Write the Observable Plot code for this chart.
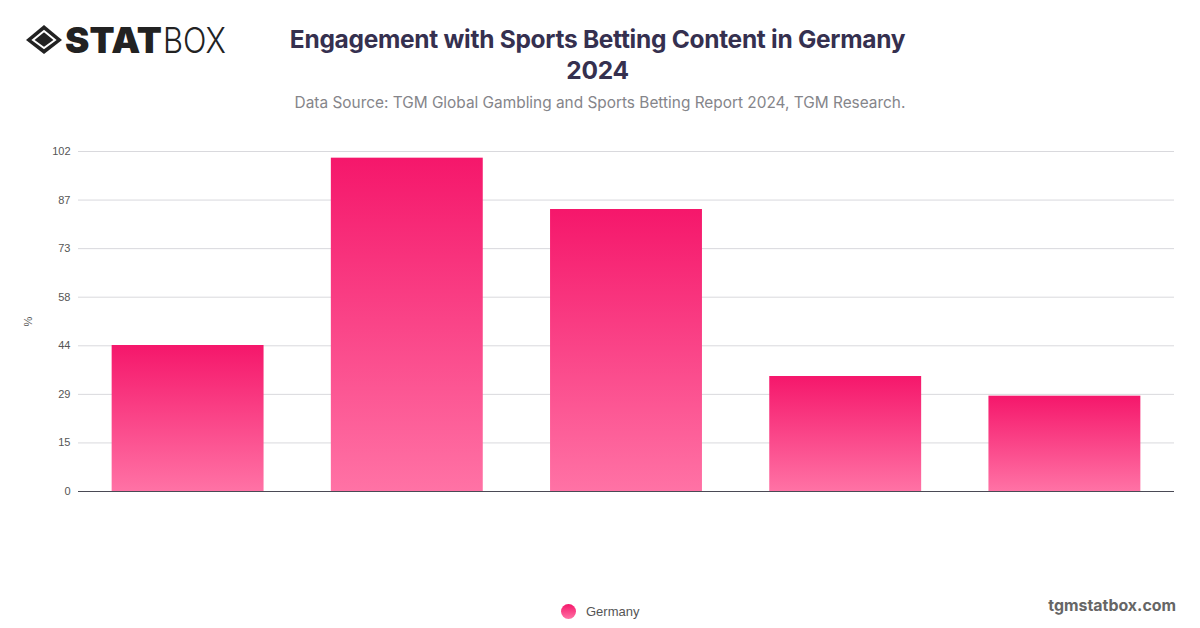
<!DOCTYPE html>
<html>
<head>
<meta charset="utf-8">
<script src="https://cdn.jsdelivr.net/npm/d3@7"></script>
<script src="https://cdn.jsdelivr.net/npm/@observablehq/plot@0.6"></script>
<style>
html,body{margin:0;padding:0;background:#fff;width:1200px;height:628px;overflow:hidden;font-family:Inter,"Liberation Sans",sans-serif}
.abs{position:absolute;white-space:nowrap}
#title{left:0;width:1195px;top:24px;text-align:center;font-size:24.5px;line-height:31px;font-weight:700;color:#35304f;letter-spacing:-.29px}
#sub{left:0;width:1200px;top:93px;text-align:center;font-size:15.4px;line-height:20px;color:#85858a}
#chart{left:0;top:130px}
#logo{left:24px;top:10px}
#legend{left:561px;top:604px;display:flex;align-items:center;font-size:13px;color:#555;font-family:"Liberation Sans",sans-serif}
#legend i{display:block;width:15px;height:15px;border-radius:50%;background:linear-gradient(#f5176b,#ff72a5);margin-right:10px}
#site{right:24px;top:596px;font-size:15.9px;font-weight:700;color:#666}
</style>
</head>
<body>
<div id="logo" class="abs">
<svg width="240" height="60" viewBox="0 -10 240 60">
<path d="M20 5 L38 20 L20 34 L2 20 Z" fill="#222"/>
<path d="M20 11 L31 20 L20 28 L9 20 Z" fill="#222" stroke="#fff" stroke-width="2"/>
<text x="41" y="33" font-family="Inter" font-weight="900" font-size="36" fill="#222" textLength="97" lengthAdjust="spacingAndGlyphs">STAT</text>
<text x="139" y="33" font-family="Inter" font-weight="300" font-size="36" fill="#222" textLength="63" lengthAdjust="spacingAndGlyphs">BOX</text>
</svg>
</div>
<div id="title" class="abs">Engagement with Sports Betting Content in Germany<br>2024</div>
<div id="sub" class="abs">Data Source: TGM Global Gambling and Sports Betting Report 2024, TGM Research.</div>
<div id="chart" class="abs"></div>
<div id="legend" class="abs"><i></i>Germany</div>
<div id="site" class="abs">tgmstatbox.com</div>
<script>
const categories = ["Item 1", "Item 2", "Item 3", "Item 4", "Item 5"];
const values = [43.8, 100, 84.6, 34.5, 28.6];
const tickValues = [0, 14.57, 29.14, 43.71, 58.29, 72.86, 87.43, 102];
const rows = categories.map((c, i) => ({category: c, value: values[i]}));

const gradient = () => {
  const defs = d3.create("svg:defs");
  const g = defs.append("linearGradient").attr("id", "barFill").attr("x1", 0).attr("y1", 0).attr("x2", 0).attr("y2", 1);
  g.append("stop").attr("offset", "0%").attr("stop-color", "#f5176b");
  g.append("stop").attr("offset", "100%").attr("stop-color", "#ff72a5");
  return defs.node();
};

const plot = Plot.plot({
  width: 1200,
  height: 370,
  marginLeft: 78,
  marginRight: 26,
  marginTop: 21,
  marginBottom: 9,
  style: {fontFamily: "'Liberation Sans', sans-serif", fontSize: "11px", background: "#fff"},
  x: {domain: categories, paddingInner: 0.307, paddingOuter: 0.1535, align: 0.5, round: false, axis: null},
  y: {domain: [0, 102]},
  marks: [
    gradient,
    Plot.gridY(tickValues, {stroke: "#d9d9dd", strokeOpacity: 1, strokeWidth: 1}),
    Plot.axisY(tickValues, {
      tickSize: 0, tickPadding: 8, tickFormat: d3.format(".0f"), color: "#555",
      label: "%", labelAnchor: "center", labelArrow: "none", labelOffset: 54
    }),
    Plot.barY(rows, {x: "category", y: "value", fill: "url(#barFill)"}),
    Plot.ruleY([0], {stroke: "#4a4a55", strokeWidth: 1})
  ]
});
document.getElementById("chart").appendChild(plot);
</script>
</body>
</html>
